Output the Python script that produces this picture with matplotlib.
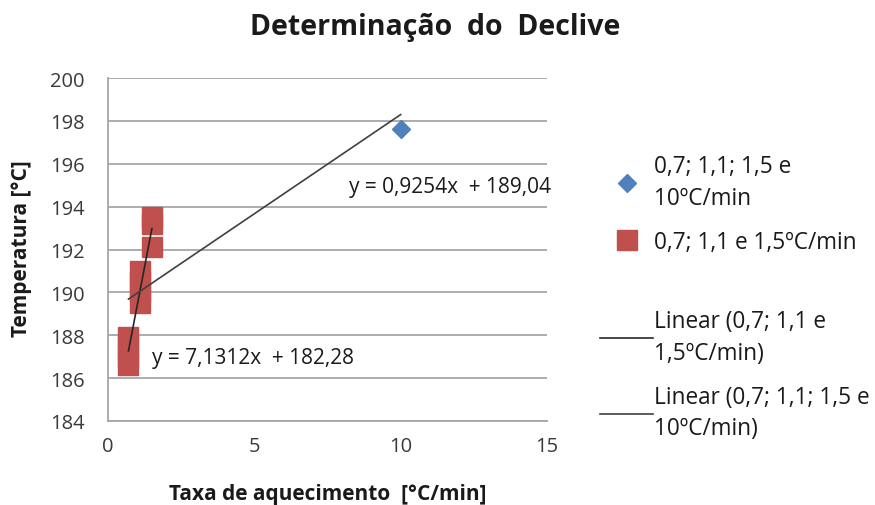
import numpy as np
import matplotlib.pyplot as plt
from matplotlib.lines import Line2D

plt.rcParams['font.family'] = ['Open Sans', 'DejaVu Sans']

# taxas de aquecimento e temperaturas medidas
x_todos = [0.7, 0.7, 0.7, 0.7, 1.1, 1.1, 1.1, 1.1, 1.5, 1.5, 1.5, 10]
y_todos = [186.6, 187.0, 187.5, 187.9, 189.5, 190.0, 190.5, 191.0, 192.1, 193.2, 193.5, 197.6]
x_baixas = [0.7, 0.7, 0.7, 0.7, 1.1, 1.1, 1.1, 1.1, 1.5, 1.5, 1.5]
y_baixas = [186.6, 187.0, 187.5, 187.9, 189.5, 190.0, 190.5, 191.0, 192.1, 193.2, 193.5]

# regressões lineares (declive, ordenada)
reg_todos = [0.9254, 189.04]
reg_baixas = [7.1312, 182.28]

azul = '#4F81BD'
vermelho = '#C0504D'

fig = plt.figure(figsize=(8.75, 5.06), dpi=100)
ax = fig.add_axes([108/875, 1-422/506, (547-108)/875, (422-79)/506])

ax.plot(x_todos, y_todos, 'D', color=azul, ms=9, zorder=3)
ax.plot(x_baixas, y_baixas, 's', color=vermelho, ms=14, zorder=4)

xa = np.array([min(x_baixas), max(x_baixas)])
ax.plot(xa, reg_baixas[0]*xa + reg_baixas[1], color='#262626', lw=1.2, zorder=5)
xt = np.array([min(x_todos), max(x_todos)])
ax.plot(xt, reg_todos[0]*xt + reg_todos[1], color='#404040', lw=1.2, zorder=5)

ax.text(8.22, 194.95, 'y = 0,9254x  + 189,04', fontsize=15, color='#1a1a1a', va='center')
ax.text(1.5, 186.95, 'y = 7,1312x  + 182,28', fontsize=15, color='#1a1a1a', va='center')

ax.set_xlim(0, 15)
ax.set_ylim(184, 200)
ax.set_xticks([0, 5, 10, 15])
ax.set_yticks(np.arange(184, 201, 2))
ax.tick_params(labelsize=14.5, length=0)
ax.tick_params(axis='y', pad=17)
ax.tick_params(axis='x', pad=11)
for lbl in ax.get_xticklabels() + ax.get_yticklabels():
    lbl.set_color('#3a3a3a')
ax.grid(axis='y', color='#a6a6a6', lw=1.3)
ax.set_axisbelow(True)
for s in ['top', 'right']:
    ax.spines[s].set_visible(False)
ax.spines['left'].set_color('#a6a6a6')
ax.spines['bottom'].set_color('#a6a6a6')
ax.spines['left'].set_linewidth(1.3)
ax.spines['bottom'].set_linewidth(1.3)

fig.text(435/875, 1-28/506, 'Determinação  do  Declive', ha='center', va='center',
         fontsize=20.5, fontweight='bold', color='#1a1a1a')
fig.text(22/875, 1-249/506, 'Temperatura [°C]', rotation=90, ha='center', va='center',
         fontsize=15, fontweight='bold', color='#1a1a1a')
fig.text(328/875, 1-495/506, 'Taxa de aquecimento  [°C/min]', ha='center', va='center',
         fontsize=15, fontweight='bold', color='#1a1a1a')

# legenda em dois blocos: séries e linhas de tendência
h_series = [
    Line2D([], [], ls='none', marker='D', color=azul, ms=9),
    Line2D([], [], ls='none', marker='s', color=vermelho, ms=14),
]
l_series = ['0,7; 1,1; 1,5 e\n10ºC/min', '0,7; 1,1 e 1,5ºC/min']
h_linhas = [
    Line2D([], [], color='#262626', lw=1.2),
    Line2D([], [], color='#404040', lw=1.2),
]
l_linhas = ['Linear (0,7; 1,1 e\n1,5ºC/min)', 'Linear (0,7; 1,1; 1,5 e\n10ºC/min)']

opts = dict(loc='upper left', frameon=False, fontsize=16.3, handlelength=2.35,
            handletextpad=0.05, labelspacing=0.9, labelcolor='#1a1a1a', borderaxespad=0,
            borderpad=0)
leg1 = fig.legend(h_series, l_series, bbox_to_anchor=(600/875, 1-155/506), **opts)
leg2 = fig.legend(h_linhas, l_linhas, bbox_to_anchor=(600/875, 1-310/506), **opts)
for leg in [leg1, leg2]:
    for t in leg.get_texts():
        t.set_linespacing(1.42)

plt.savefig('out.png', dpi=100)
